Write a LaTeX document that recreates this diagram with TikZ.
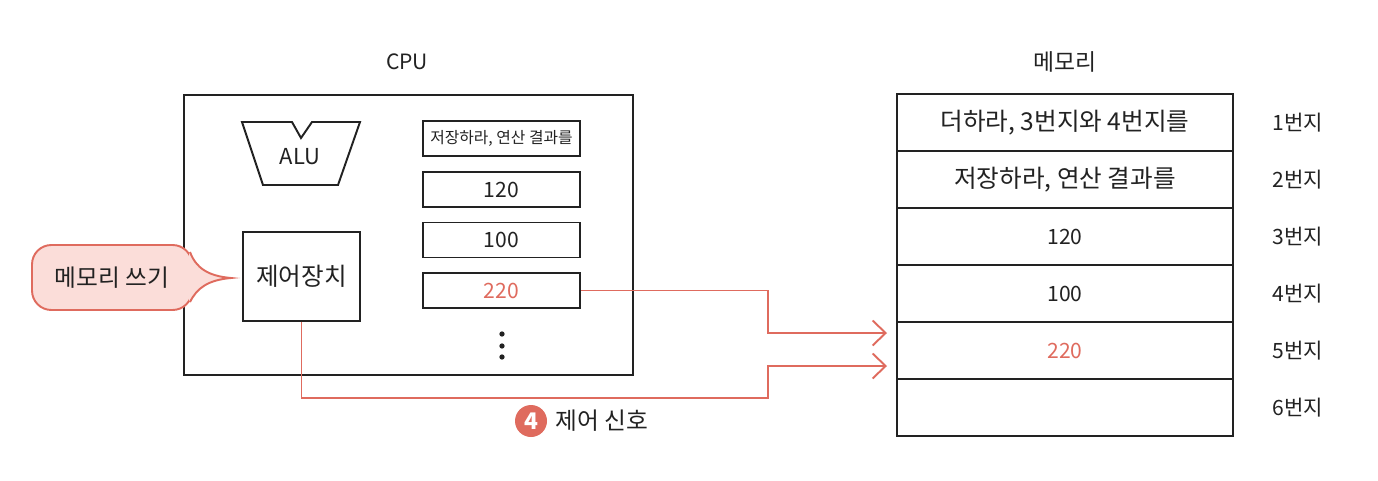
\documentclass[tikz,border=0pt]{standalone}
\usepackage{fontspec}
\setmainfont{Noto Sans CJK KR}
\usepackage{tikz}
\usetikzlibrary{arrows.meta,positioning}
\definecolor{SigRed}{HTML}{DF6B5E}
\definecolor{SigPink}{HTML}{FBDDD9}
\definecolor{InkBlack}{HTML}{222222}

\begin{document}
\begin{tikzpicture}[x=0.02cm,y=-0.02cm,
  every node/.style={font=\fontsize{12}{14}\selectfont,text=InkBlack,align=center},
  box/.style={draw=InkBlack,line width=1.1pt,inner sep=0pt},
  reg/.style={box,minimum width=3.14cm,minimum height=0.7cm},
  cell/.style={box,minimum width=6.72cm,minimum height=1.14cm},
  big/.style={font=\fontsize{14}{16}\selectfont},
  sig/.style={draw=SigRed,line width=1.1pt,-{Straight Barb[length=2.6mm,width=5mm]}}
]
  \useasboundingbox (0,0) rectangle (1378,480);

  % CPU
  \node (cpulabel) at (407,62) {CPU};
  \node[box,line width=1.3pt,minimum width=8.98cm,minimum height=5.6cm] (cpu) at (408.5,235) {};
  \draw[InkBlack,line width=1.1pt] (242,122) -- (292,122) -- (301,138) -- (312,122)
    -- (360,122) -- (338,185) -- (263,185) -- cycle;
  \node[font=\fontsize{12.5}{14}\selectfont] (alu) at (300,157) {ALU};
  \node[box,big,minimum width=2.34cm,minimum height=1.78cm] (ctrl) at (301.5,276.5) {제어장치};

  \node[reg,font=\fontsize{9}{11}\selectfont] (r1) at (501.5,138.5) {저장하라, 연산 결과를};
  \node[reg] (r2) at (501.5,189.5) {120};
  \node[reg] (r3) at (501.5,240) {100};
  \node[reg,text=SigRed] (r4) at (501.5,290.5) {220};
  \foreach \y in {334,346,357}
    \fill[InkBlack] (502,\y) circle (1.5pt);

  % callout
  \node[draw=SigRed,fill=SigPink,line width=1.1pt,rounded corners=11pt,
        minimum width=3.2cm,minimum height=1.3cm,font=\fontsize{13.5}{15}\selectfont] (write) at (112,277.5) {메모리 쓰기};
  \fill[SigPink] (189,252) .. controls (196,268) and (208,276) .. (231,278)
    .. controls (208,280) and (197,288) .. (189,302) -- cycle;
  \draw[SigRed,line width=1.1pt] (190,252) .. controls (196,268) and (208,276) .. (231,278)
    .. controls (208,280) and (197,288) .. (190,302);

  % memory
  \node[font=\fontsize{13}{15}\selectfont] (memlabel) at (1065,62) {메모리};
  \foreach \i/\y/\txt in {1/122.5/{더하라, 3번지와 4번지를},2/179.5/{저장하라, 연산 결과를},
                          3/236.5/{\fontsize{12}{14}\selectfont 120},
                          4/293.5/{\fontsize{12}{14}\selectfont 100},
                          5/350.5/{\fontsize{12}{14}\selectfont\textcolor{SigRed}{220}},6/407.5/{}} {
    \node[cell,big] (m\i) at (1065,\y) {\txt};
    \node (a\i) at (1298,\y) {\i{}번지};
  }

  % signals
  \coordinate (inA) at (887,333);
  \coordinate (inB) at (887,366);
  \coordinate (bendA) at (768,333);
  \coordinate (lowB) at (768,398);
  \coordinate (bendB) at (768,366);
  \draw[sig] (r4.east) -| (bendA) -- (inA);
  \draw[sig] (ctrl.south) |- (lowB) -- (bendB) -- (inB);

  \node[circle,fill=SigRed,minimum size=0.64cm,inner sep=0pt,text=white,
        font=\bfseries\fontsize{13}{13}\selectfont] (sig4) at (531,421) {4};
  \node[right=1pt of sig4,font=\fontsize{13.5}{15}\selectfont] (sigtext) {제어 신호};
\end{tikzpicture}
\end{document}
